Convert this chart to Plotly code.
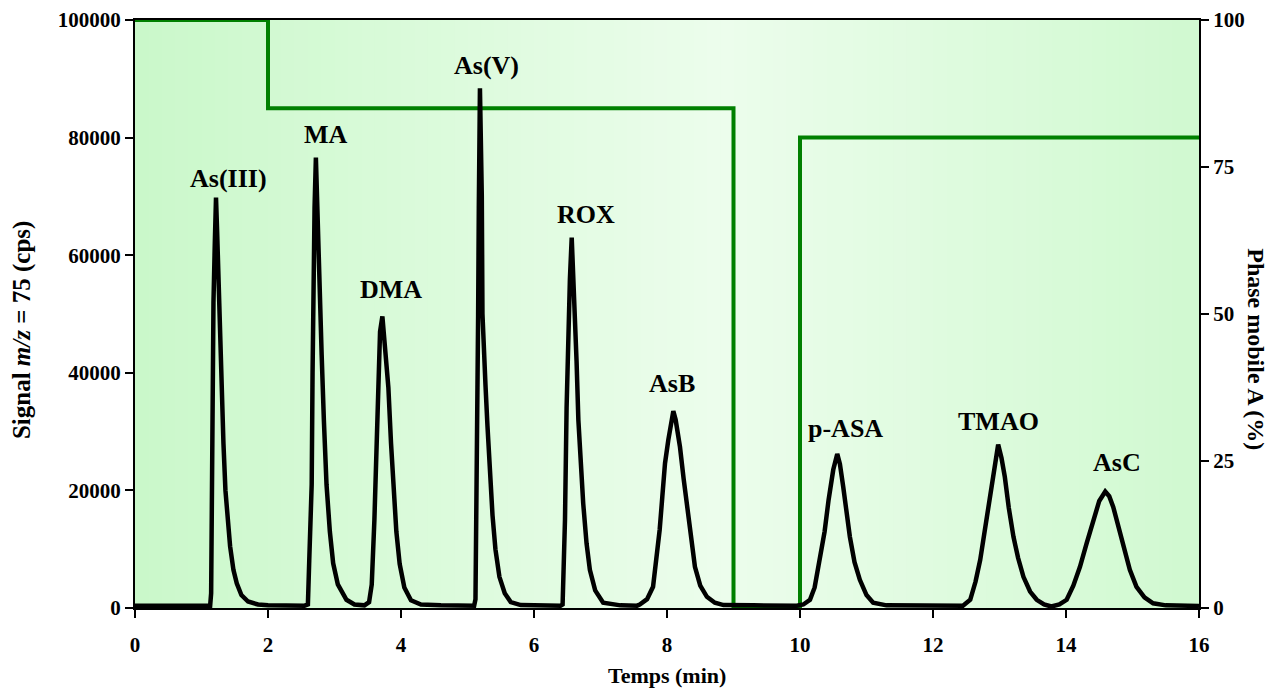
import plotly.graph_objects as go

# ---- data ----
chromatogram_time = [
    0.0, 1.13,
    1.145, 1.155, 1.165, 1.18, 1.20, 1.218, 1.235, 1.255, 1.275, 1.29, 1.30, 1.33, 1.36, 1.40, 1.43, 1.48, 1.53, 1.60, 1.70, 1.85, 2.0, 2.55,
    2.60, 2.62, 2.64, 2.657, 2.67, 2.68, 2.70, 2.72, 2.735, 2.757, 2.78, 2.807, 2.84, 2.88, 2.93, 2.98, 3.05, 3.18, 3.30, 3.45,
    3.52, 3.56, 3.60, 3.63, 3.66, 3.685, 3.72, 3.75, 3.78, 3.81, 3.85, 3.885, 3.93, 3.98, 4.05, 4.15, 4.30, 4.60, 5.10,
    5.12, 5.135, 5.145, 5.16, 5.17, 5.18, 5.187, 5.20, 5.215, 5.225, 5.24, 5.27, 5.30, 5.34, 5.376, 5.42, 5.48, 5.56, 5.65, 5.80, 6.40,
    6.43, 6.45, 6.466, 6.49, 6.516, 6.54, 6.567, 6.585, 6.60, 6.617, 6.64, 6.667, 6.70, 6.74, 6.79, 6.84, 6.92, 7.04, 7.30, 7.55,
    7.59, 7.70, 7.79, 7.84, 7.89, 7.93, 7.97, 8.02, 8.06, 8.095, 8.13, 8.16, 8.195, 8.25, 8.30, 8.36, 8.42, 8.50, 8.60, 8.72, 8.85, 9.30, 9.95,
    10.05, 10.15, 10.22, 10.30, 10.37, 10.43, 10.50, 10.56, 10.60, 10.65, 10.70, 10.75, 10.82, 10.90, 11.00, 11.10, 11.30, 12.45,
    12.56, 12.64, 12.71, 12.79, 12.86, 12.92, 12.98, 13.03, 13.08, 13.14, 13.21, 13.28, 13.36, 13.46, 13.56, 13.67, 13.78,
    13.90, 14.01, 14.11, 14.21, 14.31, 14.41, 14.50, 14.59, 14.65, 14.71, 14.78, 14.86, 14.96, 15.06, 15.18, 15.31, 15.50, 16.0,
]
chromatogram_signal = [
    400, 400,
    2500, 20000, 40000, 52000, 62000, 69800, 64000, 55000, 52000, 45000, 38000, 28000, 20000, 14000, 10500, 6500, 4200, 2200, 1100, 600, 450, 400,
    600, 8000, 15000, 21000, 40000, 55000, 68000, 76600, 70000, 60000, 52000, 43000, 32000, 21000, 13000, 7600, 4000, 1400, 600, 450,
    1000, 4000, 15000, 26500, 40000, 47000, 49600, 46000, 41000, 37500, 28000, 20500, 13000, 7500, 3500, 1300, 600, 450, 400,
    1500, 15000, 27500, 50000, 68000, 82000, 88400, 80000, 70000, 50000, 44000, 38000, 31000, 22000, 15800, 10000, 5300, 2500, 1000, 500, 400,
    600, 8000, 15000, 34000, 49000, 56000, 63000, 58000, 55000, 51000, 42000, 32000, 24000, 17800, 11000, 6500, 3000, 900, 450, 400,
    600, 1500, 3600, 8000, 13300, 19000, 24600, 28600, 31500, 33500, 32000, 30000, 27400, 22000, 17200, 11500, 7000, 3800, 1900, 900, 500, 450, 400,
    600, 1400, 3500, 8200, 13000, 18400, 23500, 26200, 24500, 20600, 16000, 12100, 7800, 4800, 2200, 900, 450, 400,
    1400, 4500, 8200, 14000, 19500, 24500, 27800, 25500, 22300, 17000, 12100, 8500, 5300, 2800, 1400, 600, 250,
    600, 1400, 3800, 7000, 11000, 15000, 18200, 19800, 19000, 17200, 14200, 10400, 6500, 3600, 1800, 800, 450, 350,
]

phase_time = [0, 2, 9, 10, 16]
phase_A_pct = [100, 85, 0, 80, 80]

peak_names = ["As(III)", "MA", "DMA", "As(V)", "ROX", "AsB", "p-ASA", "TMAO", "AsC"]
peak_label_time = [1.41, 2.87, 3.85, 5.29, 6.78, 8.08, 10.69, 12.98, 14.77]
peak_label_signal = [73100, 80600, 54200, 92300, 67000, 38100, 30600, 31800, 24800]

x_ticks = [0, 2, 4, 6, 8, 10, 12, 14, 16]
signal_ticks = [0, 20000, 40000, 60000, 80000, 100000]
signal_tick_text = ["0", "20000", "40000", "60000", "80000", "100000"]
phase_ticks = [0, 25, 50, 75, 100]

FONT = "Liberation Serif"

fig = go.Figure()

# green gradient background of the plot area (style only)
n_strips = 80
edge = (202, 248, 202)
light = (236, 253, 236)
for i in range(n_strips):
    f = (i + 0.5) / n_strips
    d = min(abs(f - 0.55) / 0.55, 1.0)
    c = tuple(round(light[k] + (edge[k] - light[k]) * d) for k in range(3))
    fig.add_shape(type="rect", xref="x domain", yref="y domain",
                  x0=i / n_strips, x1=min((i + 1) / n_strips + 0.002, 1.0), y0=0, y1=1,
                  fillcolor=f"rgb{c}", line_width=0, layer="below")

fig.add_trace(go.Scatter(x=phase_time, y=phase_A_pct, mode="lines", line_shape="hv",
                         line=dict(color="#008000", width=4), yaxis="y", hoverinfo="skip"))
fig.add_trace(go.Scatter(x=chromatogram_time, y=chromatogram_signal, mode="lines",
                         line=dict(color="black", width=4.5), yaxis="y2"))

for name, tx, ty in zip(peak_names, peak_label_time, peak_label_signal):
    fig.add_annotation(x=tx, y=ty, xref="x", yref="y2", text=name, showarrow=False,
                       font=dict(family=FONT, size=26, color="black", weight="bold"))

fig.add_annotation(xref="paper", yref="paper", x=-0.106, y=0.473, text="Signal <i>m/z</i> = 75 (cps)",
                   textangle=-90, showarrow=False, xanchor="center", yanchor="middle",
                   font=dict(family=FONT, size=25, color="black", weight="bold"))
fig.add_annotation(xref="paper", yref="paper", x=1.0536, y=0.44, text="Phase mobile A (%)",
                   textangle=90, showarrow=False, xanchor="center", yanchor="middle",
                   font=dict(family=FONT, size=24, color="black", weight="bold"))
fig.add_annotation(xref="paper", yref="paper", x=0.5, y=-0.1156, text="Temps (min)",
                   showarrow=False, xanchor="center", yanchor="middle",
                   font=dict(family=FONT, size=22, color="black", weight="bold"))

tickfont = dict(family=FONT, size=21, color="black", weight="bold")
fig.update_layout(
    width=1269, height=689,
    margin=dict(l=135, r=70, t=20, b=81),
    paper_bgcolor="white", plot_bgcolor="white",
    showlegend=False,
    xaxis=dict(range=[0, 16], tickvals=x_ticks, ticks="outside", ticklen=8, tickwidth=1.5,
               tickcolor="black", showline=True, linecolor="black", linewidth=1.5, mirror=True,
               showgrid=False, zeroline=False, tickfont=tickfont, automargin=False,
               ticklabelstandoff=9),
    yaxis=dict(range=[0, 100], tickvals=phase_ticks, side="right", ticks="outside", ticklen=8,
               tickwidth=1.5, tickcolor="black", showline=True, linecolor="black", linewidth=2,
               showgrid=False, zeroline=False, tickfont=tickfont, automargin=False),
    yaxis2=dict(range=[0, 100000], tickvals=signal_ticks, ticktext=signal_tick_text, side="left",
                overlaying="y", ticks="outside", ticklen=8, tickwidth=1.5, tickcolor="black",
                showline=True, linecolor="black", linewidth=2, showgrid=False, zeroline=False,
                tickfont=tickfont, automargin=False),
)

fig.write_html("out.html", config={"displayModeBar": False},
               post_script="document.body.style.margin='0';document.body.style.overflow='hidden';")
